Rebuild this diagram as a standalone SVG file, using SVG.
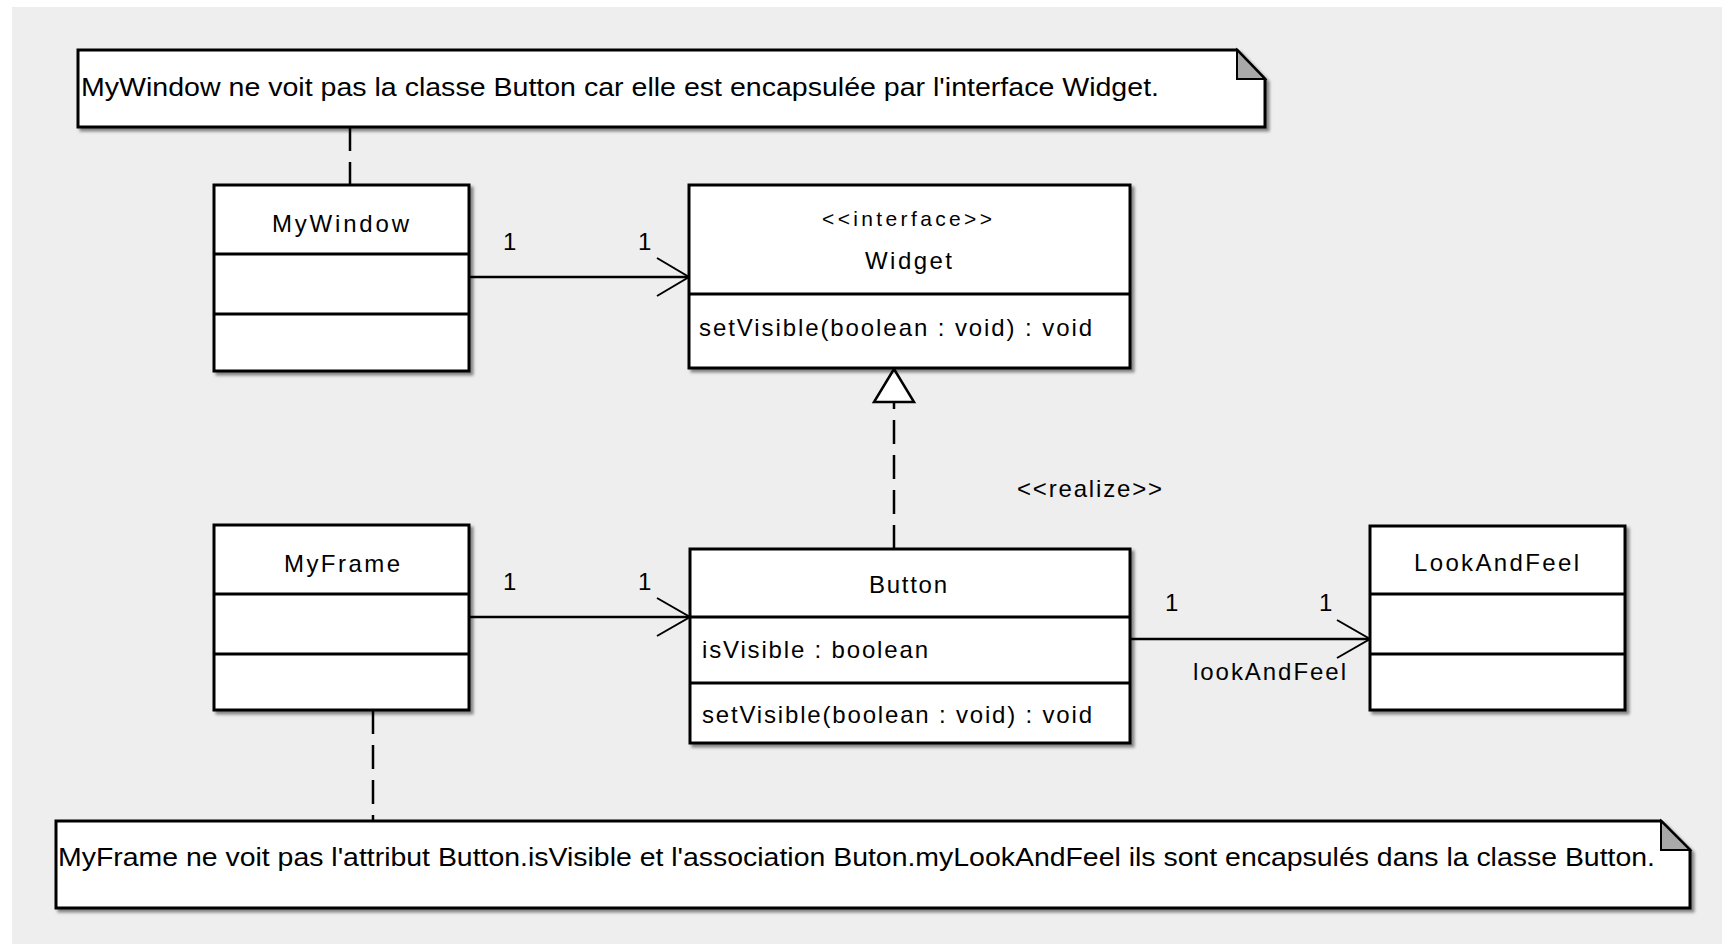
<svg xmlns="http://www.w3.org/2000/svg" width="1722" height="944" viewBox="0 0 1722 944">
  <defs>
    <style>
      .box { fill: #ffffff; stroke: #000000; stroke-width: 3; }
      .div { stroke: #000000; stroke-width: 3; fill: none; }
      .note { fill: #ffffff; stroke: #000000; stroke-width: 3; stroke-linejoin: miter; }
      .fold { fill: #a9a9a9; stroke: #000000; stroke-width: 2; }
      .assoc { stroke: #000000; stroke-width: 2.5; fill: none; }
      .head { stroke: #000000; stroke-width: 2; fill: none; }
      .dash { stroke: #000000; stroke-width: 2.5; fill: none; stroke-dasharray: 24 11; }
      .t { font-family: "Liberation Sans", Arial, sans-serif; font-size: 24px; fill: #000000; }
      .ts { font-family: "Liberation Sans", Arial, sans-serif; font-size: 21px; fill: #000000; }
      .tn { font-family: "Liberation Sans", Arial, sans-serif; font-size: 26px; fill: #000000; }
    </style>
    <filter id="shadow" x="-5%" y="-5%" width="115%" height="120%">
      <feDropShadow dx="3" dy="3" stdDeviation="1.6" flood-color="#000000" flood-opacity="0.45"/>
    </filter>
  </defs>

  <!-- canvas -->
  <rect x="0" y="0" width="1722" height="944" fill="#ffffff"/>
  <rect x="12" y="7" width="1710" height="937" fill="#eeeeee"/>

  <!-- connectors -->
  <g id="connectors">
    <!-- note anchors -->
    <line class="dash" x1="350" y1="127" x2="350" y2="185"/>
    <line class="dash" x1="373" y1="710" x2="373" y2="821"/>
    <!-- MyWindow -> Widget -->
    <line class="assoc" x1="469" y1="277" x2="689" y2="277"/>
    <polyline class="head" points="657,258 689,277 657,296"/>
    <!-- MyFrame -> Button -->
    <line class="assoc" x1="469" y1="617" x2="690" y2="617"/>
    <polyline class="head" points="657,598 690,617 657,636"/>
    <!-- Button -> LookAndFeel -->
    <line class="assoc" x1="1130" y1="639" x2="1370" y2="639"/>
    <polyline class="head" points="1337,620 1370,639 1337,658"/>
    <!-- realization Button -> Widget -->
    <line class="dash" x1="894" y1="549" x2="894" y2="402" stroke-dasharray="24 13"/>
    <polygon points="894,369 874,402 914,402" fill="#ffffff" stroke="#000000" stroke-width="2.5"/>
    <!-- labels -->
    <text class="t" x="503" y="250">1</text>
    <text class="t" x="638" y="250">1</text>
    <text class="t" x="503" y="590">1</text>
    <text class="t" x="638" y="590">1</text>
    <text class="t" x="1165" y="611">1</text>
    <text class="t" x="1319" y="611">1</text>
    <text class="t" x="1193" y="680" textLength="153">lookAndFeel</text>
    <text class="t" x="1017" y="497" textLength="145">&lt;&lt;realize&gt;&gt;</text>
  </g>

  <!-- top note -->
  <g id="note-mywindow">
    <polygon class="note" filter="url(#shadow)" points="78,50 1237,50 1265,79 1265,127 78,127"/>
    <polygon class="fold" points="1237,50 1237,79 1265,79"/>
    <text class="tn" x="81" y="96" textLength="1078" lengthAdjust="spacingAndGlyphs">MyWindow ne voit pas la classe Button car elle est encapsulée par l'interface Widget.</text>
  </g>

  <!-- MyWindow -->
  <g id="class-mywindow">
    <rect class="box" filter="url(#shadow)" x="214" y="185" width="255" height="186"/>
    <line class="div" x1="214" y1="254" x2="469" y2="254"/>
    <line class="div" x1="214" y1="314" x2="469" y2="314"/>
    <text class="t" x="272" y="232" textLength="137">MyWindow</text>
  </g>

  <!-- Widget -->
  <g id="interface-widget">
    <rect class="box" filter="url(#shadow)" x="689" y="185" width="441" height="183"/>
    <line class="div" x1="689" y1="294" x2="1130" y2="294"/>
    <text class="ts" x="822" y="226" textLength="170">&lt;&lt;interface&gt;&gt;</text>
    <text class="t" x="865" y="269" textLength="87">Widget</text>
    <text class="t" x="699" y="336" textLength="393">setVisible(boolean : void) : void</text>
  </g>

  <!-- MyFrame -->
  <g id="class-myframe">
    <rect class="box" filter="url(#shadow)" x="214" y="525" width="255" height="185"/>
    <line class="div" x1="214" y1="594" x2="469" y2="594"/>
    <line class="div" x1="214" y1="654" x2="469" y2="654"/>
    <text class="t" x="284" y="572" textLength="116">MyFrame</text>
  </g>

  <!-- Button -->
  <g id="class-button">
    <rect class="box" filter="url(#shadow)" x="690" y="549" width="440" height="194"/>
    <line class="div" x1="690" y1="617" x2="1130" y2="617"/>
    <line class="div" x1="690" y1="683" x2="1130" y2="683"/>
    <text class="t" x="869" y="593" textLength="78">Button</text>
    <text class="t" x="702" y="658" textLength="226">isVisible : boolean</text>
    <text class="t" x="702" y="723" textLength="390">setVisible(boolean : void) : void</text>
  </g>

  <!-- LookAndFeel -->
  <g id="class-lookandfeel">
    <rect class="box" filter="url(#shadow)" x="1370" y="526" width="255" height="184"/>
    <line class="div" x1="1370" y1="594" x2="1625" y2="594"/>
    <line class="div" x1="1370" y1="654" x2="1625" y2="654"/>
    <text class="t" x="1414" y="571" textLength="165">LookAndFeel</text>
  </g>

  <!-- bottom note -->
  <g id="note-myframe">
    <polygon class="note" filter="url(#shadow)" points="56,821 1661,821 1690,850 1690,908 56,908"/>
    <polygon class="fold" points="1661,821 1661,850 1690,850"/>
    <text class="tn" x="58" y="866" textLength="1597" lengthAdjust="spacingAndGlyphs">MyFrame ne voit pas l'attribut Button.isVisible et l'association Buton.myLookAndFeel ils sont encapsulés dans la classe Button.</text>
  </g>
</svg>
